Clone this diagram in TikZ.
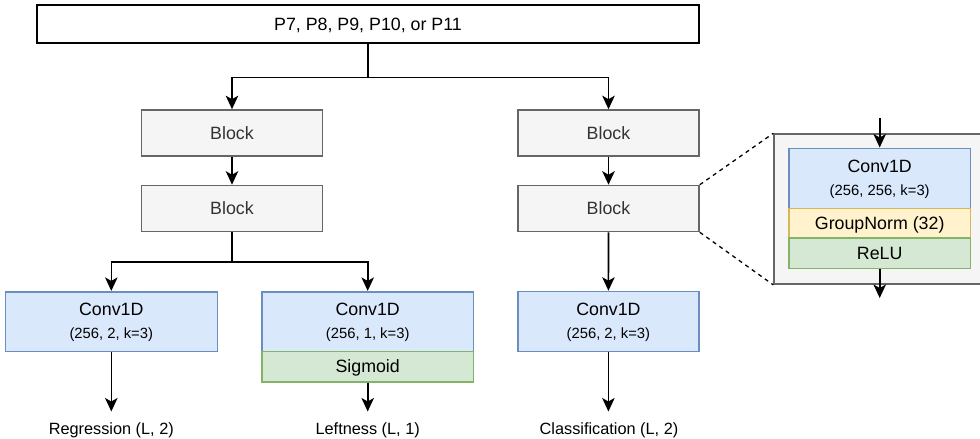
\documentclass[tikz,border=0pt]{standalone}
\usepackage{fontspec}
\setmainfont{Liberation Sans}
\usetikzlibrary{arrows.meta}
\definecolor{greyfill}{HTML}{F5F5F5}
\definecolor{greyline}{HTML}{666666}
\definecolor{greytext}{HTML}{333333}
\definecolor{bluefill}{HTML}{DAE8FC}
\definecolor{blueline}{HTML}{6C8EBF}
\definecolor{yellowfill}{HTML}{FFF2CC}
\definecolor{yellowline}{HTML}{D6B656}
\definecolor{greenfill}{HTML}{D5E8D4}
\definecolor{greenline}{HTML}{82B366}

\tikzset{
  bigfont/.style={font=\fontsize{17.8}{21}\selectfont},
  smallfont/.style={font=\fontsize{14.8}{18}\selectfont},
  labelfont/.style={font=\fontsize{16.3}{19}\selectfont},
  box/.style={rectangle, inner sep=0pt, line width=1.6pt, text height=12.7pt,
    text depth=0pt, bigfont},
  inbox/.style={box, draw=black, fill=white},
  blockbox/.style={box, draw=greyline, fill=greyfill, text=greytext},
  convbox/.style={box, draw=blueline, fill=bluefill},
  normbox/.style={box, draw=yellowline, fill=yellowfill},
  actbox/.style={box, draw=greenline, fill=greenfill},
  panel/.style={rectangle, inner sep=0pt, line width=1.6pt, draw=greyline, fill=greyfill},
  arr/.style={line width=1.6pt, -{Stealth[length=13.5pt, width=12.5pt, inset=3.5pt]}},
  link/.style={line width=1.6pt},
  zoomline/.style={line width=1.3pt, dash pattern=on 4pt off 4pt},
  caption/.style={anchor=base, inner sep=0pt},
}

\begin{document}
\begin{tikzpicture}[x=1pt, y=-1pt]
\useasboundingbox (0,0) rectangle (980,439);

% input feature level
\node[inbox, minimum width=662, minimum height=37.7] (top) at (368,23.9) {P7, P8, P9, P10, or P11};

% regression / leftness tower
\node[blockbox, minimum width=181, minimum height=46] (b1) at (232,133) {Block};
\node[blockbox, minimum width=181, minimum height=46] (b2) at (232,208.5) {Block};

% classification tower
\node[blockbox, minimum width=181, minimum height=46] (b3) at (608.5,133) {Block};
\node[blockbox, minimum width=181, minimum height=46] (b4) at (608.5,208.5) {Block};

% output heads
\node[convbox, minimum width=212, minimum height=59.6] (conv1) at (111.3,321.5) {};
\node[caption, bigfont] (conv1a) at ([yshift=-25pt]conv1.north) {Conv1D};
\node[caption, smallfont] (conv1b) at ([yshift=-47.6pt]conv1.north) {(256, 2, k=3)};

\node[convbox, minimum width=211.3, minimum height=59.6] (conv2) at (367.7,321.5) {};
\node[caption, bigfont] (conv2a) at ([yshift=-25pt]conv2.north) {Conv1D};
\node[caption, smallfont] (conv2b) at ([yshift=-47.6pt]conv2.north) {(256, 1, k=3)};
\node[actbox, minimum width=211.3, minimum height=30.4] (sig) at (367.7,366.5) {Sigmoid};

\node[convbox, minimum width=181.3, minimum height=60] (conv3) at (608.4,321.5) {};
\node[caption, bigfont] (conv3a) at ([yshift=-25pt]conv3.north) {Conv1D};
\node[caption, smallfont] (conv3b) at ([yshift=-47.6pt]conv3.north) {(256, 2, k=3)};

% output shapes
\node[caption, labelfont] (oreg) at (111.3,434) {Regression (L, 2)};
\node[caption, labelfont] (oleft) at (367.7,434) {Leftness (L, 1)};
\node[caption, labelfont] (ocls) at (609,434) {Classification (L, 2)};
\coordinate (e1) at (111.3,411.5);
\coordinate (e2) at (367.7,411.5);
\coordinate (e3) at (608.4,411.5);

% detail of one Block
\node[panel, minimum width=210, minimum height=150, anchor=north west] (detail) at (773.3,133.3) {};
\node[convbox, minimum width=181.3, minimum height=60] (conv4) at (879.7,178.3) {};
\node[caption, bigfont] (conv4a) at ([yshift=-25pt]conv4.north) {Conv1D};
\node[caption, smallfont] (conv4b) at ([yshift=-47.7pt]conv4.north) {(256, 256, k=3)};
\node[normbox, minimum width=181.3, minimum height=29.7] (gn) at (879.7,223.2) {GroupNorm (32)};
\node[actbox, minimum width=181.3, minimum height=30.3] (relu) at (879.7,253.2) {ReLU};
\coordinate (din) at (879.7,118.3);
\coordinate (dout) at (879.7,298);

% connectors
\draw[link] (top.south) -- ++(0,34) coordinate (split1);
\draw[arr] (split1) -| (b1.north);
\draw[arr] (split1) -| (b3.north);
\draw[arr] (b1) -- (b2);
\draw[arr] (b3) -- (b4);
\draw[link] (b2.south) -- ++(0,29.5) coordinate (split2);
\draw[arr] (split2) -| (conv1.north);
\draw[arr] (split2) -| (conv2.north);
\draw[arr] (b4) -- (conv3);
\draw[arr] (conv1) -- (e1);
\draw[arr] (sig) -- (e2);
\draw[arr] (conv3) -- (e3);
\draw[arr] (din) -- (conv4);
\draw[arr] (relu) -- (dout);

% zoom guides
\draw[zoomline] (b4.north east) -- (detail.north west);
\draw[zoomline] (b4.south east) -- (detail.south west);
\end{tikzpicture}
\end{document}
